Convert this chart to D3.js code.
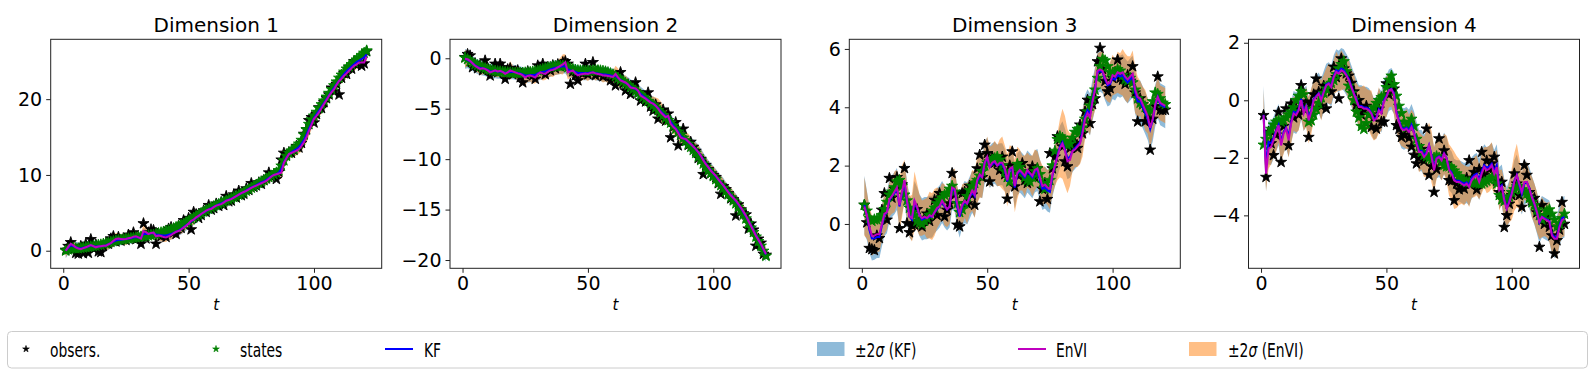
<!DOCTYPE html>
<html>
<head>
<meta charset="utf-8">
<script src="https://cdn.jsdelivr.net/npm/d3@7"></script>
<style>
	body { margin: 0; background: #fff; }
	svg { display: block; font-family: 'DejaVu Sans', sans-serif; }
</style>
</head>
<body>
<div id="chart"></div>
<script>
// time index shared by every series
const steps = d3.range(1, 122);

const titles = ['Dimension 1', 'Dimension 2', 'Dimension 3', 'Dimension 4'];
const xTicks = [0, 50, 100];
const yTicks = [[0, 10, 20], [0, -5, -10, -15, -20], [0, 2, 4, 6], [-4, -2, 0, 2]];
const yLimits = [[-2.32, 27.9], [-20.82, 1.88], [-1.52, 6.33], [-5.84, 2.12]];

// ---- dimension 1
const obsDim1 = [
	0.1, 0.6, 1.1, 0.2, -0.3, -0.4, 0.6, -0.35, 0.9, -0.3,
	1.5, 0.3, 0.8, -0.1, -0.2, 0.6, 1.0, 0.9, 1.6, 1.9,
	1.2, 1.8, 1.3, 1.6, 1.4, 2.1, 1.7, 2.4, 1.5, 1.7,
	0.9, 3.6, 1.6, 2.4, 2.8, 2.7, 0.9, 2.1, 1.9, 2.3,
	1.8, 2.9, 3.1, 2.4, 2.2, 3.3, 3.0, 4.0, 3.8, 4.3,
	2.8, 5.1, 4.8, 4.3, 4.7, 5.3, 5.1, 6.0, 5.4, 5.6,
	6.2, 5.9, 6.4, 6.0, 7.2, 6.5, 6.6, 7.4, 7.0, 7.9,
	7.3, 7.5, 8.2, 8.0, 8.9, 8.4, 8.6, 9.0, 8.8, 9.3,
	9.6, 10.3, 9.8, 10.0, 9.45, 10.4, 12.0, 12.9, 12.6, 13.0,
	12.9, 13.3, 13.8, 13.6, 14.2, 15.4, 16.0, 17.2, 17.6, 16.9,
	18.0, 18.9, 18.8, 19.6, 20.1, 20.6, 21.5, 21.0, 22.0, 20.6,
	22.8, 23.4, 23.3, 24.2, 24.0, 25.0, 24.5, 24.8, 24.4, 24.7, 26.3
];
const stateDim1 = [
	0.0, 0.15, 0.3, 0.35, 0.3, 0.3, 0.35, 0.4, 0.45, 0.5,
	0.55, 0.6, 0.65, 0.75, 0.8, 0.9, 0.95, 1.05, 1.15, 1.25,
	1.35, 1.4, 1.45, 1.5, 1.55, 1.6, 1.65, 1.7, 1.75, 1.8,
	1.85, 1.9, 1.95, 2.0, 2.05, 2.1, 2.2, 2.3, 2.4, 2.5,
	2.6, 2.7, 2.8, 2.95, 3.1, 3.25, 3.4, 3.55, 3.75, 3.95,
	4.15, 4.35, 4.55, 4.75, 4.95, 5.15, 5.35, 5.5, 5.7, 5.85,
	6.0, 6.15, 6.3, 6.45, 6.6, 6.75, 6.9, 7.05, 7.2, 7.35,
	7.5, 7.7, 7.9, 8.1, 8.3, 8.5, 8.7, 8.9, 9.1, 9.3,
	9.5, 9.7, 9.9, 10.1, 10.3, 10.6, 11.2, 11.9, 12.5, 12.9,
	13.2, 13.4, 13.7, 14.1, 14.6, 15.3, 16.0, 16.7, 17.3, 17.8,
	18.3, 18.8, 19.3, 19.8, 20.3, 20.8, 21.3, 21.8, 22.3, 22.8,
	23.2, 23.6, 24.0, 24.3, 24.6, 24.9, 25.2, 25.5, 25.8, 26.1, 26.4
];
const kfDim1 = [
	0.0, 0.4, 0.7, 0.6, 0.45, 0.35, 0.3, 0.4, 0.45, 0.55,
	0.7, 0.6, 0.55, 0.55, 0.6, 0.65, 0.7, 0.85, 1.0, 1.2,
	1.35, 1.45, 1.45, 1.5, 1.55, 1.6, 1.65, 1.75, 1.8, 1.75,
	1.7, 2.2, 2.2, 2.2, 2.3, 2.35, 2.1, 2.1, 2.05, 2.0,
	2.0, 2.1, 2.2, 2.35, 2.5, 2.65, 2.85, 3.1, 3.35, 3.6,
	3.85, 4.1, 4.35, 4.6, 4.85, 5.05, 5.25, 5.45, 5.6, 5.8,
	5.95, 6.1, 6.25, 6.4, 6.6, 6.75, 6.85, 7.05, 7.2, 7.4,
	7.6, 7.75, 7.95, 8.15, 8.35, 8.5, 8.65, 8.85, 9.0, 9.15,
	9.35, 9.6, 9.85, 10.0, 10.1, 10.3, 10.8, 11.7, 12.3, 12.75,
	13.0, 13.2, 13.4, 13.7, 14.1, 14.6, 15.3, 16.1, 16.8, 17.5,
	18.0, 18.5, 19.0, 19.5, 20.0, 20.5, 21.0, 21.5, 22.0, 22.4,
	22.9, 23.3, 23.7, 24.0, 24.3, 24.6, 24.9, 25.1, 25.3, 25.5, 25.9
];
const enviDim1 = [
	0.0, 0.5, 0.9, 0.7, 0.45, 0.3, 0.2, 0.35, 0.45, 0.6,
	0.75, 0.6, 0.45, 0.55, 0.6, 0.65, 0.65, 0.85, 1.0, 1.3,
	1.55, 1.6, 1.55, 1.5, 1.55, 1.65, 1.7, 1.85, 1.9, 1.75,
	1.6, 2.6, 2.45, 2.2, 2.35, 2.4, 1.9, 2.0, 1.95, 1.8,
	1.75, 1.9, 2.05, 2.3, 2.5, 2.6, 2.8, 3.05, 3.3, 3.6,
	3.95, 4.1, 4.4, 4.6, 4.85, 5.05, 5.3, 5.45, 5.5, 5.75,
	5.95, 6.05, 6.15, 6.35, 6.6, 6.7, 6.8, 7.0, 7.2, 7.4,
	7.6, 7.75, 7.9, 8.1, 8.3, 8.45, 8.6, 8.75, 8.9, 9.05,
	9.2, 9.5, 9.8, 10.0, 10.1, 10.2, 10.3, 11.6, 12.2, 12.75,
	12.9, 13.05, 13.2, 13.4, 13.8, 14.3, 15.0, 15.8, 16.6, 17.4,
	17.8, 18.25, 18.8, 19.35, 19.9, 20.45, 20.9, 21.3, 21.9, 22.4,
	22.7, 23.1, 23.4, 23.75, 24.1, 24.4, 24.6, 24.85, 24.85, 24.85, 25.6
];
const enviSdDim1 = [
	0.9, 0.7, 0.6, 0.6, 0.5, 0.5, 0.6, 0.5, 0.5, 0.6,
	0.5, 0.6, 0.5, 0.6, 0.6, 0.5, 0.6, 0.7, 0.6, 0.8,
	0.8, 0.7, 0.6, 0.7, 0.8, 0.7, 0.6, 0.8, 0.7, 0.6,
	0.7, 0.9, 0.8, 0.6, 0.7, 0.8, 0.6, 0.6, 0.7, 0.6,
	0.6, 0.5, 0.6, 0.6, 0.7, 0.5, 0.6, 0.6, 0.5, 0.6,
	0.6, 0.7, 0.6, 0.5, 0.6, 0.6, 0.7, 0.6, 0.5, 0.6,
	0.6, 0.5, 0.6, 0.7, 0.6, 0.6, 0.5, 0.6, 0.6, 0.7,
	0.6, 0.6, 0.5, 0.6, 0.7, 0.6, 0.6, 0.5, 0.6, 0.6,
	0.5, 0.6, 0.6, 0.7, 0.6, 0.7, 0.8, 0.7, 0.6, 0.6,
	0.6, 0.7, 0.6, 0.6, 0.7, 0.6, 0.8, 0.7, 0.6, 0.7,
	0.6, 0.6, 0.7, 0.6, 0.6, 0.7, 0.6, 0.6, 0.7, 0.6,
	0.6, 0.7, 0.6, 0.6, 0.6, 0.7, 0.6, 0.6, 0.7, 0.6, 0.6
];

// ---- dimension 2
const obsDim2 = [
	0.1, 0.4, 0.26, -0.9, -0.5, -1.0, -0.7, -1.2, -0.23, -1.0,
	-1.72, -1.1, -0.56, -1.4, -0.56, -0.9, -2.05, -1.1, -1.0, -1.6,
	-1.3, -1.2, -1.9, -2.4, -1.6, -1.3, -1.5, -1.7, -2.05, -0.73,
	-1.0, -0.56, -1.6, -0.9, -1.2, -0.7, -1.0, -0.6, -0.8, -0.4,
	-0.3, -0.56, -2.55, -1.3, -1.7, -2.2, -1.4, -1.5, -0.56, -1.6,
	-1.2, -0.4, -1.7, -1.3, -1.5, -1.8, -1.4, -1.6, -2.2, -2.0,
	-2.7, -1.9, -1.39, -2.5, -3.2, -2.6, -3.55, -3.0, -2.4, -3.4,
	-4.2, -3.9, -4.3, -3.4, -4.8, -5.2, -4.6, -6.0, -5.4, -5.1,
	-6.2, -5.5, -7.85, -6.8, -6.35, -8.65, -7.6, -7.0, -8.2, -8.6,
	-8.3, -8.8, -9.2, -9.9, -10.0, -11.5, -10.6, -11.0, -11.4, -11.6,
	-11.8, -12.4, -13.45, -12.7, -13.0, -13.4, -13.9, -14.0, -15.6, -14.5,
	-15.0, -15.4, -15.5, -16.9, -16.4, -17.0, -18.6, -17.9, -18.3, -19.4, -19.5
];
const stateDim2 = [
	0.05, -0.1, -0.3, -0.45, -0.6, -0.7, -0.8, -0.9, -1.0, -1.1,
	-1.15, -1.2, -1.25, -1.3, -1.32, -1.35, -1.38, -1.4, -1.42, -1.44,
	-1.45, -1.45, -1.45, -1.44, -1.42, -1.4, -1.37, -1.33, -1.28, -1.22,
	-1.15, -1.08, -1.0, -0.93, -0.87, -0.82, -0.78, -0.75, -0.73, -0.75,
	-0.8, -0.9, -1.0, -1.08, -1.15, -1.2, -1.22, -1.24, -1.25, -1.25,
	-1.24, -1.22, -1.2, -1.2, -1.22, -1.26, -1.32, -1.4, -1.5, -1.62,
	-1.78, -1.95, -2.12, -2.3, -2.48, -2.66, -2.85, -3.05, -3.25, -3.45,
	-3.65, -3.85, -4.05, -4.25, -4.45, -4.67, -4.9, -5.15, -5.4, -5.65,
	-5.9, -6.15, -6.4, -6.7, -7.0, -7.3, -7.6, -7.9, -8.2, -8.5,
	-8.8, -9.1, -9.4, -9.75, -10.1, -10.45, -10.8, -11.1, -11.4, -11.7,
	-12.0, -12.3, -12.6, -12.9, -13.2, -13.5, -13.8, -14.1, -14.4, -14.75,
	-15.1, -15.5, -15.9, -16.35, -16.8, -17.25, -17.7, -18.15, -18.6, -19.1, -19.6
];
const kfDim2 = [
	-0.05, -0.15, -0.3, -0.5, -0.7, -0.85, -0.95, -1.0, -1.05, -1.15,
	-1.3, -1.3, -1.25, -1.3, -1.3, -1.35, -1.45, -1.4, -1.35, -1.35,
	-1.4, -1.45, -1.5, -1.6, -1.7, -1.7, -1.65, -1.65, -1.65, -1.5,
	-1.4, -1.35, -1.3, -1.2, -1.1, -1.0, -0.95, -0.9, -0.85, -0.8,
	-0.8, -1.1, -1.2, -1.25, -1.35, -1.45, -1.45, -1.45, -1.45, -1.45,
	-1.4, -1.4, -1.45, -1.5, -1.55, -1.6, -1.6, -1.65, -1.7, -1.75,
	-1.75, -1.95, -2.15, -2.3, -2.45, -2.6, -2.8, -2.95, -3.05, -3.25,
	-3.55, -3.75, -3.95, -4.15, -4.35, -4.5, -4.7, -4.95, -5.25, -5.5,
	-5.75, -5.85, -6.3, -6.65, -6.95, -7.3, -7.7, -7.9, -8.05, -8.3,
	-8.5, -8.75, -9.0, -9.3, -9.65, -10.05, -10.45, -10.8, -11.1, -11.4,
	-11.7, -12.0, -12.3, -12.6, -12.95, -13.25, -13.55, -13.85, -14.15, -14.5,
	-14.85, -15.25, -15.65, -16.1, -16.55, -17.05, -17.55, -18.0, -18.45, -18.95, -19.45
];
const enviDim2 = [
	-0.05, -0.1, -0.25, -0.5, -0.75, -0.9, -1.05, -1.0, -1.05, -1.2,
	-1.4, -1.3, -1.2, -1.3, -1.25, -1.35, -1.55, -1.4, -1.2, -1.3,
	-1.4, -1.5, -1.55, -1.7, -1.9, -1.75, -1.7, -1.8, -1.9, -1.6,
	-1.4, -1.5, -1.55, -1.35, -1.2, -1.15, -1.05, -0.9, -0.75, -0.6,
	-0.4, -1.4, -1.3, -1.2, -1.5, -1.7, -1.6, -1.55, -1.5, -1.55,
	-1.45, -1.4, -1.5, -1.55, -1.6, -1.7, -1.7, -1.75, -1.8, -1.85,
	-1.55, -1.9, -2.2, -2.3, -2.4, -2.6, -2.9, -2.95, -3.0, -3.2,
	-3.7, -3.85, -4.0, -4.2, -4.4, -4.5, -4.7, -5.0, -5.35, -5.6,
	-5.85, -5.7, -6.5, -6.8, -7.0, -7.4, -7.85, -7.95, -8.0, -8.25,
	-8.5, -8.75, -9.0, -9.3, -9.65, -10.1, -10.5, -10.8, -11.15, -11.4,
	-11.65, -12.0, -12.3, -12.6, -12.95, -13.3, -13.6, -13.85, -14.1, -14.45,
	-14.8, -15.2, -15.6, -16.1, -16.6, -17.1, -17.6, -18.0, -18.4, -18.9, -19.4
];
const enviSdDim2 = [
	0.9, 0.7, 0.6, 0.6, 0.6, 0.5, 0.6, 0.6, 0.5, 0.6,
	0.6, 0.5, 0.6, 0.6, 0.5, 0.6, 0.7, 0.6, 0.9, 0.6,
	0.6, 0.7, 0.6, 0.6, 0.7, 0.6, 0.6, 0.7, 0.6, 0.6,
	0.6, 0.7, 0.6, 0.6, 0.6, 0.7, 0.6, 0.7, 0.8, 1.0,
	0.8, 0.7, 0.6, 0.7, 0.6, 0.6, 0.7, 0.6, 0.6, 0.7,
	0.6, 0.6, 0.7, 0.6, 0.6, 0.7, 0.6, 0.7, 0.6, 0.6,
	0.8, 0.9, 0.7, 0.6, 0.7, 0.6, 0.6, 0.7, 0.6, 0.6,
	0.7, 0.6, 0.6, 0.7, 0.6, 0.7, 0.8, 1.0, 1.1, 0.9,
	0.8, 0.7, 0.6, 0.7, 0.6, 0.6, 0.7, 0.6, 0.7, 0.8,
	0.7, 0.6, 0.6, 0.7, 0.6, 0.6, 0.7, 0.6, 0.6, 0.7,
	0.6, 0.6, 0.7, 0.6, 0.6, 0.7, 0.8, 0.7, 0.6, 0.6,
	0.6, 0.7, 0.6, 0.6, 0.7, 0.6, 0.6, 0.7, 0.6, 0.6, 0.6
];

// ---- dimension 3
const obsDim3 = [
	0.65, 0.05, -0.83, -0.87, -0.9, -0.4, -0.49, 0.48, 1.05, 0.14,
	1.57, 0.9, 1.2, 1.6, -0.15, 1.35, 1.91, 0.02, -0.29, -0.05,
	-0.03, 0.5, 0.1, -0.09, 0.2, 0.35, 0.1, 0.4, 0.82, 0.3,
	1.05, 0.9, 0.25, 0.48, 0.7, 1.74, 1.0, -0.03, -0.09, 1.05,
	1.1, 0.7, 1.3, 1.0, 0.65, 1.9, 2.37, 1.6, 2.71, 2.42,
	1.45, 2.3, 2.1, 2.08, 1.85, 2.3, 1.7, 0.86, 2.0, 2.48,
	1.28, 1.9, 1.68, 2.08, 1.5, 1.4, 1.8, 1.97, 1.6, 1.9,
	0.77, 1.2, 1.4, 0.85, 2.42, 1.9, 2.3, 3.0, 2.9, 2.65,
	2.14, 1.97, 2.6, 2.82, 2.77, 2.6, 3.4, 3.1, 3.85, 4.25,
	3.45, 4.1, 4.3, 5.57, 6.03, 5.3, 4.9, 4.54, 4.65, 5.0,
	5.2, 5.63, 5.0, 4.94, 4.8, 5.1, 4.9, 5.4, 4.5, 3.51,
	4.3, 4.1, 3.51, 3.8, 2.54, 3.6, 4.03, 5.05, 3.91, 3.9, 3.91
];
const stateDim3 = [
	0.65, 0.45, 0.2, 0.1, 0.15, 0.15, 0.2, 0.3, 0.5, 0.75,
	1.0, 1.1, 1.25, 1.45, 1.5, 1.3, 1.0, 0.8, 0.55, 0.4,
	0.3, 0.1, 0.05, 0.0, 0.1, 0.2, 0.3, 0.45, 0.55, 0.7,
	0.8, 0.9, 1.0, 1.05, 1.2, 1.3, 1.1, 0.7, 0.4, 0.5,
	0.7, 0.95, 1.15, 1.3, 1.4, 1.5, 1.65, 1.8, 2.0, 2.1,
	2.15, 2.2, 2.25, 2.3, 2.2, 2.0, 1.8, 1.6, 1.45, 1.7,
	1.9, 2.05, 1.95, 1.8, 1.6, 1.5, 1.45, 1.6, 1.8, 1.9,
	1.7, 1.4, 1.2, 1.3, 1.5, 2.0, 2.5, 2.9, 3.0, 2.95,
	2.85, 2.7, 2.75, 2.95, 3.15, 3.25, 3.15, 3.3, 3.6, 3.85,
	4.05, 4.3, 4.6, 5.0, 5.4, 5.65, 5.6, 5.4, 5.2, 5.15,
	5.2, 5.3, 5.25, 5.1, 4.95, 4.9, 5.0, 4.85, 4.6, 4.3,
	4.15, 4.1, 4.0, 3.85, 3.9, 4.2, 4.5, 4.45, 4.3, 4.15, 4.1
];
const kfDim3 = [
	0.65, 0.3, -0.2, -0.5, -0.5, -0.45, -0.45, -0.05, 0.3, 0.4,
	0.8, 0.95, 1.05, 1.2, 0.6, 1.05, 1.45, 0.75, 0.25, 0.15,
	0.75, 0.55, 0.3, 0.15, 0.2, 0.2, 0.25, 0.25, 0.4, 0.5,
	0.6, 0.75, 0.6, 0.5, 0.6, 1.2, 1.15, 0.6, 0.25, 0.6,
	0.75, 0.7, 0.9, 1.1, 0.95, 1.45, 1.65, 1.6, 2.1, 2.25,
	1.95, 2.05, 2.1, 2.0, 2.05, 2.05, 1.85, 1.45, 1.85, 1.9,
	1.25, 1.7, 1.8, 1.7, 1.6, 1.8, 1.7, 1.6, 1.8, 1.85,
	1.5, 1.2, 1.25, 1.15, 1.1, 1.65, 2.0, 2.35, 2.65, 2.8,
	2.55, 2.25, 2.3, 2.5, 2.6, 2.7, 2.8, 3.2, 3.7, 3.9,
	3.75, 4.25, 4.65, 5.2, 5.25, 5.2, 4.95, 4.75, 4.8, 5.0,
	4.95, 5.1, 5.05, 5.1, 4.95, 4.85, 4.95, 5.05, 4.5, 4.2,
	4.2, 4.0, 3.8, 3.6, 3.25, 3.55, 4.05, 4.35, 4.1, 4.05, 4.0
];
const enviDim3 = [
	0.6, 0.3, -0.1, -0.4, -0.4, -0.35, -0.35, 0.0, 0.35, 0.4,
	0.85, 0.95, 1.1, 1.25, 0.65, 1.1, 1.5, 0.8, 0.25, 0.2,
	0.8, 0.6, 0.3, 0.2, 0.25, 0.2, 0.3, 0.25, 0.4, 0.55,
	0.6, 0.8, 0.65, 0.5, 0.6, 1.25, 1.2, 0.7, 0.35, 0.65,
	0.8, 0.7, 0.95, 1.15, 1.0, 1.5, 1.7, 1.6, 2.1, 2.3,
	1.95, 2.1, 2.15, 2.0, 2.1, 2.1, 1.9, 1.5, 1.9, 1.95,
	1.3, 1.75, 1.85, 1.75, 1.65, 1.85, 1.75, 1.65, 1.85, 1.9,
	1.6, 1.3, 1.35, 1.25, 1.2, 1.7, 2.0, 2.3, 2.6, 2.75,
	2.5, 2.15, 2.2, 2.5, 2.55, 2.65, 2.75, 3.1, 3.6, 3.8,
	3.65, 4.2, 4.6, 5.25, 5.3, 5.25, 5.0, 4.8, 4.85, 5.1,
	5.05, 5.2, 5.15, 5.2, 5.05, 4.95, 5.05, 5.15, 4.6, 4.35,
	4.3, 4.1, 3.9, 3.7, 3.3, 3.6, 4.1, 4.35, 4.15, 4.1, 4.05
];
const enviSdDim3 = [
	1.0, 0.8, 0.7, 0.7, 0.6, 0.6, 0.6, 0.6, 0.7, 0.6,
	0.6, 0.6, 0.7, 0.6, 0.9, 0.9, 0.7, 0.6, 0.7, 0.8,
	1.0, 0.8, 0.7, 0.6, 0.6, 0.7, 0.8, 0.8, 0.8, 0.7,
	0.6, 0.6, 0.7, 0.6, 0.6, 0.6, 0.7, 0.6, 0.6, 0.7,
	0.6, 0.7, 0.6, 0.7, 0.8, 0.8, 0.8, 0.7, 0.6, 0.7,
	0.7, 0.6, 0.7, 0.7, 0.8, 0.9, 0.8, 0.9, 0.8, 0.7,
	0.9, 0.9, 0.7, 0.6, 0.7, 0.6, 0.6, 0.7, 0.7, 0.6,
	0.6, 0.7, 0.6, 0.6, 0.7, 0.7, 0.7, 0.8, 1.0, 1.2,
	1.2, 1.1, 0.9, 0.7, 0.6, 0.7, 0.7, 0.8, 0.7, 0.6,
	0.6, 0.6, 0.7, 0.6, 0.6, 0.7, 0.7, 0.6, 0.7, 0.7,
	0.6, 0.7, 0.7, 0.8, 0.8, 0.8, 0.7, 0.8, 0.8, 0.7,
	0.6, 0.6, 0.7, 0.6, 0.7, 0.6, 0.6, 0.7, 0.6, 0.6, 0.6
];

// ---- dimension 4
const obsDim4 = [
	-0.52, -2.67, -1.1, -1.5, -1.91, -1.2, -0.41, -2.15, -0.9, -0.29,
	-1.57, -0.12, -0.6, -0.3, -0.5, 0.52, -0.29, -0.05, -1.28, -0.1,
	0.2, 0.75, 0.29, -0.2, 0.5, -0.29, 0.45, 0.3, 1.16, 0.8,
	0.06, 1.45, 1.1, 0.93, 0.85, 0.6, 0.3, -0.17, 0.0, -0.5,
	-0.35, -0.2, -0.5, -0.93, -0.6, -0.99, -0.3, -0.75, -0.75, 0.58,
	0.2, 0.55, 0.4, -0.87, -1.0, -1.28, -1.2, -1.0, -1.3, -1.62,
	-1.9, -2.2, -2.0, -1.7, -2.1, -0.99, -2.6, -2.3, -3.19, -2.4,
	-1.33, -2.1, -1.75, -2.2, -2.78, -2.8, -3.48, -2.9, -3.1, -3.0,
	-3.07, -2.7, -2.09, -2.9, -2.5, -3.1, -2.4, -1.8, -2.6, -2.1,
	-2.4, -2.2, -1.97, -2.8, -3.2, -2.84, -4.41, -4.0, -3.6, -3.3,
	-2.55, -2.9, -3.3, -3.71, -2.26, -2.6, -3.2, -3.48, -3.4, -3.9,
	-5.1, -3.65, -4.3, -4.0, -4.4, -4.7, -5.33, -4.87, -4.5, -3.54, -4.3
];
const stateDim4 = [
	-1.55, -1.35, -1.15, -1.0, -0.85, -0.75, -0.7, -0.75, -0.7, -0.6,
	-0.5, -0.4, -0.25, 0.0, 0.15, 0.3, 0.2, -0.3, -0.75, -0.7,
	-0.5, -0.3, -0.1, 0.1, 0.25, 0.4, 0.55, 0.6, 0.7, 0.9,
	1.1, 1.25, 1.35, 1.0, 0.5, 0.25, 0.0, -0.4, -0.6, -0.9,
	-1.0, -0.8, -0.5, -0.35, -0.25, -0.1, 0.0, 0.1, 0.15, 0.45,
	0.7, 0.85, 0.55, 0.15, -0.2, -0.45, -0.75, -0.95, -0.8, -0.65,
	-0.9, -1.35, -1.6, -1.8, -1.9, -1.95, -2.0, -2.05, -2.0, -1.95,
	-2.0, -2.15, -2.25, -2.3, -2.3, -2.35, -2.45, -2.55, -2.65, -2.75,
	-2.8, -2.85, -2.85, -2.85, -2.85, -2.88, -2.9, -2.9, -2.85, -2.8,
	-2.75, -2.7, -2.65, -2.9, -3.3, -3.45, -3.5, -3.45, -3.35, -3.2,
	-3.1, -3.0, -3.0, -3.1, -3.2, -3.25, -3.4, -3.55, -3.65, -3.8,
	-4.0, -4.15, -4.0, -3.85, -3.8, -3.95, -4.15, -4.4, -4.3, -4.1, -3.95
];
const kfDim4 = [
	-0.5, -2.3, -1.45, -1.5, -1.3, -1.05, -0.85, -1.45, -1.1, -0.95,
	-1.25, -0.75, -0.4, -0.45, -0.3, 0.05, -0.35, -0.2, -0.6, -0.35,
	0.05, 0.15, 0.25, 0.05, 0.3, 0.55, 0.6, 0.5, 0.85, 1.05,
	1.0, 1.1, 1.05, 0.9, 0.75, 0.5, 0.25, 0.05, -0.2, -0.2,
	-0.25, -0.25, -0.3, -0.45, -0.65, -0.6, -0.3, -0.4, 0.0, 0.15,
	0.35, 0.4, 0.25, -0.4, -0.7, -0.95, -1.0, -0.95, -1.05, -0.85,
	-1.1, -1.45, -1.75, -1.75, -1.9, -1.8, -1.55, -1.9, -2.35, -2.0,
	-1.95, -2.05, -1.85, -2.0, -2.4, -2.5, -2.75, -2.8, -2.8, -2.85,
	-2.9, -2.85, -2.95, -2.7, -2.6, -2.55, -2.75, -2.45, -2.25, -2.35,
	-2.3, -2.2, -2.45, -2.25, -3.05, -2.95, -3.45, -3.75, -3.5, -3.2,
	-2.8, -2.6, -2.95, -3.25, -2.9, -2.85, -3.05, -3.35, -3.6, -3.9,
	-4.25, -4.05, -4.1, -4.15, -4.2, -4.65, -4.75, -4.75, -4.35, -4.1, -4.05
];
const enviDim4 = [
	-0.52, -2.55, -1.68, -1.62, -1.39, -1.1, -0.87, -1.57, -1.16, -0.99,
	-1.39, -0.81, -0.46, -0.52, -0.35, 0.0, -0.46, -0.23, -0.7, -0.4,
	0.0, 0.12, 0.23, 0.0, 0.29, 0.52, 0.58, 0.46, 0.81, 0.99,
	0.93, 1.04, 0.99, 0.87, 0.7, 0.46, 0.23, 0.0, -0.23, -0.23,
	-0.29, -0.29, -0.35, -0.46, -0.7, -0.64, -0.35, -0.46, -0.06, 0.12,
	0.35, 0.38, 0.2, -0.46, -0.75, -0.99, -1.04, -0.99, -1.1, -0.93,
	-1.16, -1.5, -1.8, -1.8, -1.97, -1.86, -1.57, -1.97, -2.43, -2.03,
	-1.97, -2.09, -1.86, -2.03, -2.43, -2.55, -2.78, -2.84, -2.84, -2.9,
	-2.96, -2.9, -3.01, -2.78, -2.67, -2.61, -2.84, -2.55, -2.32, -2.43,
	-2.38, -2.26, -2.55, -2.32, -3.13, -3.01, -3.48, -3.77, -3.54, -3.25,
	-2.84, -2.61, -2.9, -3.19, -2.84, -2.84, -3.07, -3.36, -3.59, -3.88,
	-4.23, -4.06, -4.12, -4.17, -4.23, -4.7, -4.81, -4.81, -4.41, -4.17, -4.12
];
const enviSdDim4 = [
	0.9, 0.6, 0.7, 0.6, 0.6, 0.7, 0.6, 0.6, 0.7, 0.6,
	0.6, 0.7, 0.6, 0.6, 0.7, 0.6, 0.6, 0.7, 0.8, 0.8,
	0.7, 0.6, 0.6, 0.7, 0.6, 0.6, 0.7, 0.6, 0.6, 0.7,
	0.6, 0.7, 0.6, 0.6, 0.7, 0.6, 0.7, 0.6, 0.7, 0.7,
	0.8, 0.7, 0.7, 0.8, 0.7, 0.7, 0.8, 0.6, 0.6, 0.7,
	0.6, 0.6, 0.7, 0.6, 0.7, 0.6, 0.6, 0.7, 0.6, 0.6,
	0.7, 0.6, 0.7, 0.6, 0.7, 0.8, 0.8, 0.9, 0.8, 0.7,
	0.6, 0.7, 0.7, 0.8, 0.9, 0.9, 1.0, 0.9, 0.8, 0.7,
	0.7, 0.6, 0.7, 0.6, 0.7, 0.7, 0.6, 0.7, 0.7, 0.8,
	0.8, 0.8, 0.7, 0.6, 0.7, 0.6, 0.7, 0.6, 0.7, 0.9,
	1.0, 1.1, 0.9, 0.7, 0.6, 0.7, 0.6, 0.7, 0.7, 0.7,
	0.6, 0.7, 0.6, 0.6, 0.7, 0.6, 0.6, 0.7, 0.6, 0.6, 0.6
];

// KF 2-sigma: transient of the first steps, then the steady-state value
const kfTwoSigma = [1.0, 0.85, 0.78, 0.75, 0.73, 0.72];

const dims = [
	{ obs: obsDim1, state: stateDim1, kf: kfDim1, envi: enviDim1, enviSd: enviSdDim1 },
	{ obs: obsDim2, state: stateDim2, kf: kfDim2, envi: enviDim2, enviSd: enviSdDim2 },
	{ obs: obsDim3, state: stateDim3, kf: kfDim3, envi: enviDim3, enviSd: enviSdDim3 },
	{ obs: obsDim4, state: stateDim4, kf: kfDim4, envi: enviDim4, enviSd: enviSdDim4 }
];

// layout
const WIDTH = 1594, HEIGHT = 379;
const PANEL_LEFT = [50.7, 450, 849.3, 1248.5];
const PANEL_TOP = 39.3, PANEL_W = 331, PANEL_H = 229;
const COLORS = {
	obs: '#000000', state: '#008000', kf: '#0000ff', envi: '#bf00bf',
	kfBand: '#1f77b4', enviBand: '#ff7f0e'
};

const svg = d3.select('#chart').append('svg')
	.attr('width', WIDTH)
	.attr('height', HEIGHT);

const tPad = (d3.max(steps) - d3.min(steps)) * 0.05;
const star = d3.symbol(d3.symbolStar, 38);
const kfSd = j => kfTwoSigma[Math.min(j, kfTwoSigma.length - 1)];

dims.forEach(function(dim, i) {
	const g = svg.append('g')
		.attr('transform', `translate(${PANEL_LEFT[i]},${PANEL_TOP})`);

	const x = d3.scaleLinear()
		.domain([d3.min(steps) - tPad, d3.max(steps) + tPad])
		.range([0, PANEL_W]);
	const y = d3.scaleLinear()
		.domain(yLimits[i])
		.range([PANEL_H, 0]);

	const kfArea = d3.area()
		.x((d, j) => x(steps[j]))
		.y0((d, j) => y(d - kfSd(j)))
		.y1((d, j) => y(d + kfSd(j)));
	const enviArea = d3.area()
		.x((d, j) => x(steps[j]))
		.y0((d, j) => y(d - dim.enviSd[j]))
		.y1((d, j) => y(d + dim.enviSd[j]));
	const line = d3.line()
		.x((d, j) => x(steps[j]))
		.y(d => y(d));

	g.append('path').datum(dim.kf)
		.attr('d', kfArea)
		.attr('fill', COLORS.kfBand)
		.attr('fill-opacity', 0.5);
	g.append('path').datum(dim.envi)
		.attr('d', enviArea)
		.attr('fill', COLORS.enviBand)
		.attr('fill-opacity', 0.5);

	g.append('g').selectAll('path')
		.data(dim.obs)
		.join('path')
			.attr('d', star)
			.attr('transform', (d, j) => `translate(${x(steps[j])},${y(d)})`)
			.attr('fill', COLORS.obs)
			.attr('stroke', COLORS.obs)
			.attr('stroke-width', 0.9);
	g.append('g').selectAll('path')
		.data(dim.state)
		.join('path')
			.attr('d', star)
			.attr('transform', (d, j) => `translate(${x(steps[j])},${y(d)})`)
			.attr('fill', COLORS.state)
			.attr('stroke', COLORS.state)
			.attr('stroke-width', 0.9);

	g.append('path').datum(dim.kf)
		.attr('d', line)
		.attr('fill', 'none')
		.attr('stroke', COLORS.kf)
		.attr('stroke-width', 2);
	g.append('path').datum(dim.envi)
		.attr('d', line)
		.attr('fill', 'none')
		.attr('stroke', COLORS.envi)
		.attr('stroke-width', 2);

	// axes
	const axisX = d3.axisBottom(x)
		.tickValues(xTicks)
		.tickSize(4.5)
		.tickPadding(4)
		.tickFormat(d3.format('d'));
	const axisY = d3.axisLeft(y)
		.tickValues(yTicks[i])
		.tickSize(4.5)
		.tickPadding(4)
		.tickFormat(d3.format('d'));

	const gx = g.append('g')
		.attr('transform', `translate(0,${PANEL_H})`)
		.call(axisX);
	const gy = g.append('g').call(axisY);
	[gx, gy].forEach(a => {
		a.select('.domain').remove();
		a.selectAll('line').attr('stroke', '#222').attr('stroke-width', 1);
		a.selectAll('text')
			.attr('fill', '#000')
			.style('font-size', '19px')
			.style('font-family', "'DejaVu Sans', sans-serif");
	});

	g.append('rect')
		.attr('width', PANEL_W)
		.attr('height', PANEL_H)
		.attr('fill', 'none')
		.attr('stroke', '#222')
		.attr('stroke-width', 1);

	g.append('text')
		.text(titles[i])
		.attr('x', PANEL_W / 2)
		.attr('y', -7.5)
		.attr('text-anchor', 'middle')
		.style('font-size', '20px');

	g.append('text')
		.text('t')
		.attr('x', PANEL_W / 2)
		.attr('y', PANEL_H + 42)
		.attr('text-anchor', 'middle')
		.style('font-style', 'italic')
		.style('font-size', '15px');
});

// legend
const legend = svg.append('g');
legend.append('rect')
	.attr('x', 7.5).attr('y', 331.5)
	.attr('width', 1580).attr('height', 36.5)
	.attr('rx', 4)
	.attr('fill', '#fff')
	.attr('stroke', '#cccccc');

const legendItems = [
	{ kind: 'star', color: COLORS.obs, x: 26, tx: 50, label: ['obsers.'] },
	{ kind: 'star', color: COLORS.state, x: 216, tx: 240, label: ['states'] },
	{ kind: 'line', color: COLORS.kf, x: 385, tx: 424, label: ['KF'] },
	{ kind: 'patch', color: COLORS.kfBand, x: 817, tx: 855, label: ['±2', 'σ', ' (KF)'] },
	{ kind: 'line', color: COLORS.envi, x: 1018, tx: 1056, label: ['EnVI'] },
	{ kind: 'patch', color: COLORS.enviBand, x: 1189, tx: 1228, label: ['±2', 'σ', ' (EnVI)'] }
];
const LEG_Y = 349;

legendItems.forEach(function(item) {
	if (item.kind === 'star') {
		legend.append('path')
			.attr('d', d3.symbol(d3.symbolStar, 14))
			.attr('transform', `translate(${item.x},${LEG_Y})`)
			.attr('fill', item.color)
			.attr('stroke', item.color)
			.attr('stroke-width', 0.6);
	} else if (item.kind === 'line') {
		legend.append('line')
			.attr('x1', item.x).attr('x2', item.x + 28)
			.attr('y1', LEG_Y).attr('y2', LEG_Y)
			.attr('stroke', item.color)
			.attr('stroke-width', 2);
	} else {
		legend.append('rect')
			.attr('x', item.x).attr('y', LEG_Y - 7)
			.attr('width', 27.5).attr('height', 14)
			.attr('fill', item.color)
			.attr('fill-opacity', 0.5);
	}
	const txt = legend.append('text')
		.attr('transform', `translate(${item.tx},356.7) scale(0.73,1)`)
		.style('font-size', '19px');
	item.label.forEach((part, k) => {
		txt.append('tspan')
			.text(part)
			.style('font-style', k === 1 ? 'italic' : 'normal')
			.attr('xml:space', 'preserve');
	});
});
</script>
</body>
</html>
